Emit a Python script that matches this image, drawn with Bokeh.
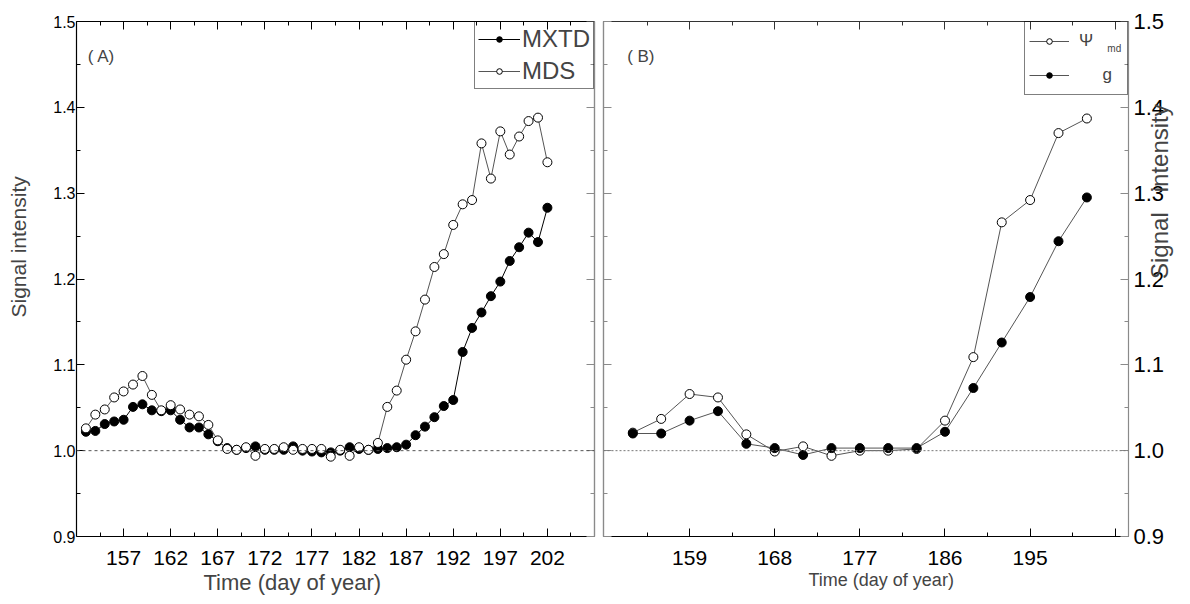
from math import pi
from bokeh.plotting import figure
from bokeh.models import (FixedTicker, LinearAxis, Span, Label, Range1d, Title,
                          NumeralTickFormatter)
from bokeh.layouts import row
from bokeh.embed import file_html
from bokeh.resources import INLINE

FONT = "Liberation Sans"
NB = "\u00a0"

# ---------------- data: panel A (daily) ----------------
days_A = [153, 154, 155, 156, 157, 158, 159, 160, 161, 162,
          163, 164, 165, 166, 167, 168, 169, 170, 171, 172,
          173, 174, 175, 176, 177, 178, 179, 180, 181, 182,
          183, 184, 185, 186, 187, 188, 189, 190, 191, 192,
          193, 194, 195, 196, 197, 198, 199, 200, 201, 202]
mxtd = [1.022, 1.023, 1.031, 1.034, 1.036, 1.051, 1.054, 1.047, 1.046, 1.047,
        1.036, 1.027, 1.027, 1.019, 1.011, 1.003, 1.001, 1.003, 1.005, 1.001,
        1.001, 1.001, 1.005, 1.000, 0.999, 0.998, 0.998, 1.000, 1.004, 1.002,
        1.001, 1.002, 1.003, 1.004, 1.007, 1.018, 1.028, 1.039, 1.052, 1.059,
        1.115, 1.143, 1.161, 1.180, 1.197, 1.221, 1.237, 1.254, 1.243, 1.283]
mds = [1.026, 1.042, 1.048, 1.062, 1.069, 1.077, 1.087, 1.065, 1.047, 1.053,
       1.048, 1.042, 1.040, 1.030, 1.012, 1.002, 1.001, 1.004, 0.994, 1.002,
       1.002, 1.004, 1.001, 1.002, 1.002, 1.002, 0.993, 1.001, 0.994, 1.004,
       1.001, 1.009, 1.051, 1.070, 1.106, 1.139, 1.176, 1.214, 1.229, 1.263,
       1.287, 1.292, 1.358, 1.317, 1.372, 1.345, 1.366, 1.384, 1.388, 1.336]

# ---------------- data: panel B (every 3 days) ----------------
days_B = [153, 156, 159, 162, 165, 168, 171, 174, 177, 180, 183, 186, 189, 192, 195, 198, 201]
psi_md = [1.021, 1.037, 1.066, 1.062, 1.019, 0.999, 1.005, 0.994, 1.000, 1.000,
          1.002, 1.035, 1.109, 1.266, 1.292, 1.370, 1.387]
g_vals = [1.020, 1.020, 1.035, 1.046, 1.008, 1.003, 0.995, 1.003, 1.003, 1.003,
          1.003, 1.022, 1.073, 1.126, 1.179, 1.244, 1.295]

# ---------------- ticks ----------------
y_ticks = [0.9, 1.0, 1.1, 1.2, 1.3, 1.4, 1.5]
y_minor = [0.95, 1.05, 1.15, 1.25, 1.35, 1.45]
x_ticks_A = [157, 162, 167, 172, 177, 182, 187, 192, 197, 202]
x_minor_A = [154.5, 159.5, 164.5, 169.5, 174.5, 179.5, 184.5, 189.5, 194.5, 199.5, 204.5]
x_ticks_B = [159, 168, 177, 186, 195, 204]
x_minor_B = [154.5, 163.5, 172.5, 181.5, 190.5, 199.5]

GRAY = "#8a8a8a"


def tick_style(ax, color):
    ax.axis_line_color = color
    ax.major_tick_line_color = color
    ax.minor_tick_line_color = color
    ax.major_tick_in = 8
    ax.major_tick_out = 0
    ax.minor_tick_in = 4
    ax.minor_tick_out = 0
    ax.axis_line_width = 1.2


def label_axis(ax, color, ticks, minor, size, standoff, overrides=None):
    ax.ticker = FixedTicker(ticks=ticks, minor_ticks=minor)
    tick_style(ax, color)
    ax.major_label_text_font_size = f"{size}px"
    ax.major_label_text_font = FONT
    ax.major_label_text_color = "black"
    ax.major_label_standoff = standoff
    if overrides:
        ax.major_label_overrides = overrides


def mirror_axes(p, side, color, ticks, minor):
    # two label-free axes: one carrying the long (major) ticks, one the short ones
    for lst, ln in ((ticks, 8), (minor, 4)):
        ax = LinearAxis(ticker=FixedTicker(ticks=[], minor_ticks=lst))
        tick_style(ax, color)
        ax.minor_tick_in = ln
        ax.major_label_standoff = 0
        ax.axis_label_standoff = 0
        p.add_layout(ax, side)


def base_fig(width, xr, borders):
    l, r, t, b = borders
    p = figure(width=width, height=604, x_range=Range1d(*xr), y_range=Range1d(0.9, 1.5),
               output_backend="svg", toolbar_location=None,
               min_border_left=l, min_border_right=r, min_border_top=t, min_border_bottom=b)
    p.xgrid.visible = False
    p.ygrid.visible = False
    p.outline_line_color = None
    p.background_fill_color = "white"
    p.border_fill_color = "white"
    return p


def style_legend(lg, size, glyph_w, label_h, standoff, padding, label_w=None):
    lg.location = "top_right"
    lg.margin = 0
    lg.padding = padding
    lg.spacing = 4
    lg.border_line_color = "black"
    lg.border_line_width = 1
    lg.label_text_font = FONT
    lg.label_text_font_size = f"{size}px"
    lg.glyph_width = glyph_w
    lg.glyph_height = 14
    lg.label_height = label_h
    lg.label_standoff = standoff
    if label_w:
        lg.label_width = label_w
    lg.background_fill_alpha = 0


# ================= Panel A =================
p1 = base_fig(598, (152, 207), (76, 4, 21, 68))
label_axis(p1.below[0], "black", x_ticks_A, x_minor_A, 21, 14)
label_axis(p1.left[0], "black", y_ticks, y_minor, 16, 1)
p1.left[0].formatter = NumeralTickFormatter(format="0.0")
p1.left[0].axis_label = NB * 11 + "Signal intensity"
p1.left[0].axis_label_text_font = FONT
p1.left[0].axis_label_text_font_size = "21px"
p1.left[0].axis_label_text_font_style = "normal"
p1.left[0].axis_label_standoff = 20
mirror_axes(p1, "above", "black", x_ticks_A, x_minor_A)
mirror_axes(p1, "right", GRAY, y_ticks, y_minor)

p1.add_layout(Title(text="Time (day of year)", align="left", offset=127, standoff=0,
                    text_font=FONT, text_font_size="22px", text_font_style="normal"), "below")

p1.add_layout(Span(location=1.0, dimension="width", line_color="#555555",
                   line_dash="3 3", line_width=1))

p1.line(days_A, mxtd, line_color="black", line_width=1, legend_label="MXTD")
p1.scatter(days_A, mxtd, marker="circle", size=9, fill_color="black",
           line_color="black", legend_label="MXTD")
p1.line(days_A, mds, line_color="#555555", line_width=1, legend_label="MDS")
p1.scatter(days_A, mds, marker="circle", size=9, fill_color="white",
           line_color="black", line_width=1, legend_label="MDS")
style_legend(p1.legend[0], 24, 42, 28, 2, 3)

p1.add_layout(Label(x=153.2, y=1.4594, text="( A)", text_font=FONT, text_font_size="17px",
                    text_baseline="middle", text_align="left"))

# ================= Panel B =================
p2 = base_fig(592, (149.9, 205.4), (5, 62, 21, 68))
label_axis(p2.below[0], "black", x_ticks_B, x_minor_B, 21, 14, overrides={204: ""})
p2.left[0].visible = False
mirror_axes(p2, "left", GRAY, y_ticks, y_minor)
mirror_axes(p2, "above", "#333333", x_ticks_B, x_minor_B)
right2 = LinearAxis()
label_axis(right2, GRAY, y_ticks, y_minor, 22, 5)
right2.formatter = NumeralTickFormatter(format="0.0")
right2.axis_label = "Signal" + NB * 3 + "intensity"
right2.axis_label_orientation = pi / 2
right2.axis_label_text_font = FONT
right2.axis_label_text_font_size = "24px"
right2.axis_label_text_font_style = "normal"
right2.axis_label_text_line_height = 0.1
right2.axis_label_standoff = -8
p2.add_layout(right2, "right")

p2.add_layout(Title(text="Time (day of year)", align="left", offset=205, standoff=0,
                    text_font=FONT, text_font_size="18px", text_font_style="normal"), "below")

p2.add_layout(Span(location=1.0, dimension="width", line_color="#777777",
                   line_dash="2 2", line_width=1))

p2.line(days_B, psi_md, line_color="#555555", line_width=1, legend_label="Ψ")
p2.scatter(days_B, psi_md, marker="circle", size=9, fill_color="white",
           line_color="black", legend_label="Ψ")
p2.line(days_B, g_vals, line_color="#555555", line_width=1, legend_label=NB * 5 + "g")
p2.scatter(days_B, g_vals, marker="circle", size=9, fill_color="black",
           line_color="black", legend_label=NB * 5 + "g")
style_legend(p2.legend[0], 17, 40, 30, 10, 4, label_w=44)

p2.add_layout(Label(x=152.4, y=1.4594, text="( B)", text_font=FONT, text_font_size="17px",
                    text_baseline="middle", text_align="left"))
p2.add_layout(Label(x=203.9, y=1.4688, text="md", text_font=FONT, text_font_size="10px",
                    text_baseline="middle", text_align="center"))

layout = row(p1, p2)
open("out.html", "w").write(file_html(layout, INLINE))
